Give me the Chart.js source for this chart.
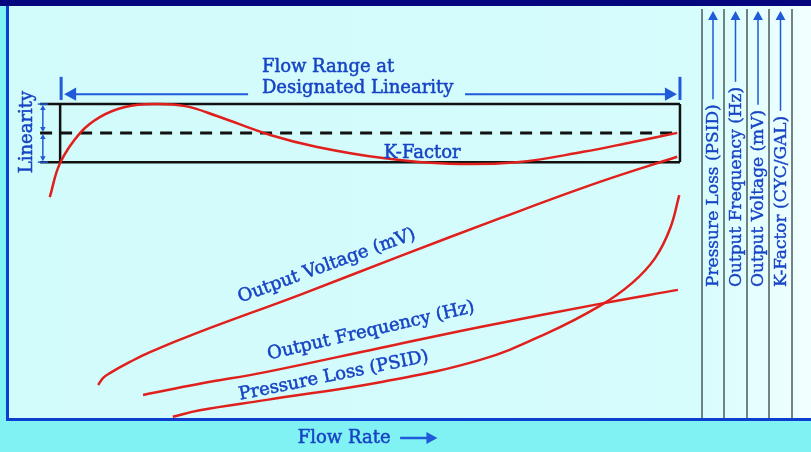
<!DOCTYPE html>
<html>
<head>
<meta charset="utf-8">
<script src="https://cdn.jsdelivr.net/npm/chart.js@4"></script>
<style>
  html, body { margin: 0; padding: 0; background: #80f2f4; }
  canvas { display: block; }
</style>
</head>
<body>
<canvas id="chart" width="811" height="452"></canvas>
<script>
// flow rate (% of range) vs. curve height (% of plot height)
const kFlow = [5.9, 7.4, 10.3, 13.2, 16.8, 21.1, 25.5, 30.1, 37.8, 44.6, 54.1, 63.8, 73.5, 83.1, 90.3, 96.7];
const kFactor = [53.6, 61.9, 69.2, 73.1, 75.5, 76.2, 75.7, 73.3, 68.7, 65.8, 63.1, 61.7, 62.1, 64.6, 67.0, 69.2];

const voltFlow = [12.9, 13.6, 14.6, 17.5, 20.4, 27.6, 42.1, 56.6, 71.1, 85.5, 96.7];
const voltage = [8.0, 9.7, 10.9, 13.6, 16.0, 20.9, 29.9, 39.3, 48.5, 57.3, 63.4];

const freqFlow = [19.4, 27.6, 37.3, 53.7, 68.2, 85.5, 96.8];
const frequency = [5.6, 8.3, 11.2, 17.0, 22.1, 27.7, 31.1];

const pressFlow = [23.7, 27.6, 37.3, 53.7, 68.2, 77.9, 85.5, 90.2, 93.5, 95.7, 97.0];
const pressure = [0.3, 1.9, 4.4, 8.7, 14.1, 20.6, 27.2, 32.8, 38.8, 46.1, 54.1];

// linearity band
const bandFlow = [7.4, 97.1];
const bandLimits = [62.1, 69.2, 76.2];

const sideLabels = ["Pressure Loss (PSID)", "Output Frequency (Hz)", "Output Voltage (mV)", "K-Factor (CYC/GAL)"];

const RED = "#e0201c";
const BLUE = "#1744c4";
const FONT = "\"DejaVu Serif\", serif";

function pts(xs, ys) {
  return xs.map((x, i) => ({ x: x, y: ys[i] }));
}

function arrowHead(ctx, x, y, angle, size) {
  ctx.save();
  ctx.translate(x, y);
  ctx.rotate(angle);
  ctx.beginPath();
  ctx.moveTo(0, 0);
  ctx.lineTo(-size, -size * 0.55);
  ctx.lineTo(-size, size * 0.55);
  ctx.closePath();
  ctx.fill();
  ctx.restore();
}

function line(ctx, x1, y1, x2, y2) {
  ctx.beginPath();
  ctx.moveTo(x1, y1);
  ctx.lineTo(x2, y2);
  ctx.stroke();
}

function text(ctx, t, x, y) {
  ctx.fillText(t, x, y);
  ctx.strokeText(t, x, y);
}

function label(ctx, t, x, y, angle, size) {
  ctx.save();
  ctx.translate(x, y);
  ctx.rotate(angle * Math.PI / 180);
  ctx.font = size + "px " + FONT;
  ctx.fillStyle = BLUE;
  ctx.strokeStyle = BLUE;
  ctx.lineWidth = 0.5;
  ctx.textAlign = "center";
  ctx.textBaseline = "middle";
  text(ctx, t, 0, 0);
  ctx.restore();
}

const background = {
  id: "background",
  beforeDraw(chart) {
    const ctx = chart.ctx;
    const a = chart.chartArea;
    ctx.save();
    ctx.fillStyle = "#80f2f4";
    ctx.fillRect(0, 0, chart.width, chart.height);
    const g = ctx.createLinearGradient(a.left, 0, chart.width, 0);
    g.addColorStop(0, "#d2fbfb");
    g.addColorStop(0.85, "#d6fcfc");
    g.addColorStop(1, "#f2ffff");
    ctx.fillStyle = g;
    ctx.fillRect(a.left, a.top, chart.width - a.left, a.bottom - a.top);
    ctx.fillStyle = "#05057e";
    ctx.fillRect(0, 0, chart.width, a.top);
    ctx.restore();
  }
};

const decorations = {
  id: "decorations",
  beforeDatasetsDraw(chart) {
    const ctx = chart.ctx;
    const x = chart.scales.x, y = chart.scales.y;
    const xl = x.getPixelForValue(bandFlow[0]);
    const xr = x.getPixelForValue(bandFlow[1]);
    const yLo = y.getPixelForValue(bandLimits[0]);
    const yMid = y.getPixelForValue(bandLimits[1]);
    const yHi = y.getPixelForValue(bandLimits[2]);
    const xExt = x.getPixelForValue(4.5);
    ctx.save();
    // band box
    ctx.strokeStyle = "#111";
    ctx.lineWidth = 2.5;
    line(ctx, xExt, yHi, xr, yHi);
    line(ctx, xExt, yLo, xr, yLo);
    line(ctx, xl, yHi, xl, yLo);
    line(ctx, xr, yHi, xr, yLo);
    ctx.setLineDash([12, 8]);
    ctx.lineWidth = 3;
    line(ctx, xExt, yMid, xr, yMid);
    ctx.setLineDash([]);
    ctx.restore();
  },
  afterDraw(chart) {
    const ctx = chart.ctx;
    const a = chart.chartArea;
    const x = chart.scales.x, y = chart.scales.y;
    const xl = x.getPixelForValue(bandFlow[0]);
    const xr = x.getPixelForValue(bandFlow[1]);
    const yLo = y.getPixelForValue(bandLimits[0]);
    const yMid = y.getPixelForValue(bandLimits[1]);
    const yHi = y.getPixelForValue(bandLimits[2]);
    ctx.save();

    // linearity double arrows
    ctx.strokeStyle = "#1f5ad8";
    ctx.fillStyle = "#1f5ad8";
    ctx.lineWidth = 1.5;
    const xa = x.getPixelForValue(4.9);
    line(ctx, xa, yHi + 3, xa, yMid - 3);
    line(ctx, xa, yMid + 3, xa, yLo - 3);
    arrowHead(ctx, xa, yHi + 1, -Math.PI / 2, 5);
    arrowHead(ctx, xa, yMid - 1, Math.PI / 2, 5);
    arrowHead(ctx, xa, yMid + 1, -Math.PI / 2, 5);
    arrowHead(ctx, xa, yLo - 1, Math.PI / 2, 5);
    line(ctx, xa - 5, yHi, xa + 5, yHi);
    line(ctx, xa - 5, yLo, xa + 5, yLo);

    // flow range arrows
    const yr = y.getPixelForValue(78.6);
    ctx.lineWidth = 3;
    line(ctx, xl + 1, y.getPixelForValue(82.8), xl + 1, y.getPixelForValue(77.2));
    line(ctx, xr, y.getPixelForValue(82.8), xr, y.getPixelForValue(77.2));
    ctx.lineWidth = 2;
    line(ctx, xl + 10, yr, x.getPixelForValue(34.6), yr);
    arrowHead(ctx, xl + 4, yr, Math.PI, 12);
    line(ctx, x.getPixelForValue(66.0), yr, xr - 10, yr);
    arrowHead(ctx, xr - 3, yr, 0, 12);

    // text labels
    ctx.font = "18px " + FONT;
    ctx.fillStyle = BLUE;
    ctx.strokeStyle = BLUE;
    ctx.lineWidth = 0.5;
    ctx.textAlign = "left";
    ctx.textBaseline = "middle";
    text(ctx, "Flow Range at", x.getPixelForValue(36.6), y.getPixelForValue(85.0));
    text(ctx, "Designated Linearity", x.getPixelForValue(36.6), y.getPixelForValue(79.9));
    label(ctx, "Linearity", x.getPixelForValue(2.7), y.getPixelForValue(69.4), -90, 18);
    label(ctx, "K-Factor", x.getPixelForValue(59.8), y.getPixelForValue(64.3), 0, 18);
    label(ctx, "Output Voltage (mV)", x.getPixelForValue(46.0), y.getPixelForValue(36.9), -20, 18);
    label(ctx, "Output Frequency (Hz)", x.getPixelForValue(52.4), y.getPixelForValue(21.1), -13, 18);
    label(ctx, "Pressure Loss (PSID)", x.getPixelForValue(47.0), y.getPixelForValue(10.2), -11.5, 18);

    // flow rate axis title
    const fy = a.bottom + 20;
    ctx.textAlign = "center";
    ctx.fillStyle = BLUE;
    ctx.strokeStyle = BLUE;
    ctx.lineWidth = 0.5;
    text(ctx, "Flow Rate", x.getPixelForValue(48.5), fy);
    ctx.strokeStyle = "#1f5ad8";
    ctx.fillStyle = "#1f5ad8";
    ctx.lineWidth = 2.5;
    line(ctx, x.getPixelForValue(56.6), fy, x.getPixelForValue(61.0), fy);
    arrowHead(ctx, x.getPixelForValue(62.0), fy, 0, 11);

    // side scales
    const offsets = [2, 24, 47, 69, 92];
    ctx.strokeStyle = "#4a5a5a";
    ctx.lineWidth = 1.5;
    offsets.forEach(o => line(ctx, a.right + o, a.top + 3, a.right + o, a.bottom));
    sideLabels.forEach((t, i) => {
      const cx = a.right + (offsets[i] + offsets[i + 1]) / 2;
      const base = 287;
      ctx.save();
      ctx.font = "17px " + FONT;
      const w = ctx.measureText(t).width;
      ctx.translate(cx, base);
      ctx.rotate(-Math.PI / 2);
      ctx.fillStyle = BLUE;
      ctx.strokeStyle = BLUE;
      ctx.lineWidth = 0.4;
      ctx.textAlign = "left";
      ctx.textBaseline = "middle";
      text(ctx, t, 0, 1);
      ctx.restore();
      ctx.strokeStyle = "#1f5ad8";
      ctx.fillStyle = "#1f5ad8";
      ctx.lineWidth = 1.5;
      line(ctx, cx, base - w - 5, cx, a.top + 12);
      arrowHead(ctx, cx, a.top + 5, -Math.PI / 2, 9);
    });

    // plot frame
    ctx.strokeStyle = "#0b3fcf";
    ctx.lineWidth = 3;
    line(ctx, a.left - 1.5, a.top, a.left - 1.5, a.bottom + 3);
    line(ctx, a.left - 3, a.bottom + 1.5, chart.width, a.bottom + 1.5);
    ctx.restore();
  }
};

function curve(data) {
  return {
    data: data,
    borderColor: RED,
    borderWidth: 2.5,
    pointRadius: 0,
    fill: false,
    tension: 0.4
  };
}

new Chart(document.getElementById("chart"), {
  type: "line",
  data: {
    datasets: [
      curve(pts(kFlow, kFactor)),
      curve(pts(voltFlow, voltage)),
      curve(pts(freqFlow, frequency)),
      curve(pts(pressFlow, pressure))
    ]
  },
  options: {
    responsive: false,
    animation: false,
    layout: { padding: { left: 9, right: 111, top: 6, bottom: 34 } },
    scales: {
      x: { type: "linear", min: 0, max: 100, display: false },
      y: { min: 0, max: 100, display: false }
    },
    plugins: { legend: { display: false }, tooltip: { enabled: false } }
  },
  plugins: [background, decorations]
});
</script>
</body>
</html>
